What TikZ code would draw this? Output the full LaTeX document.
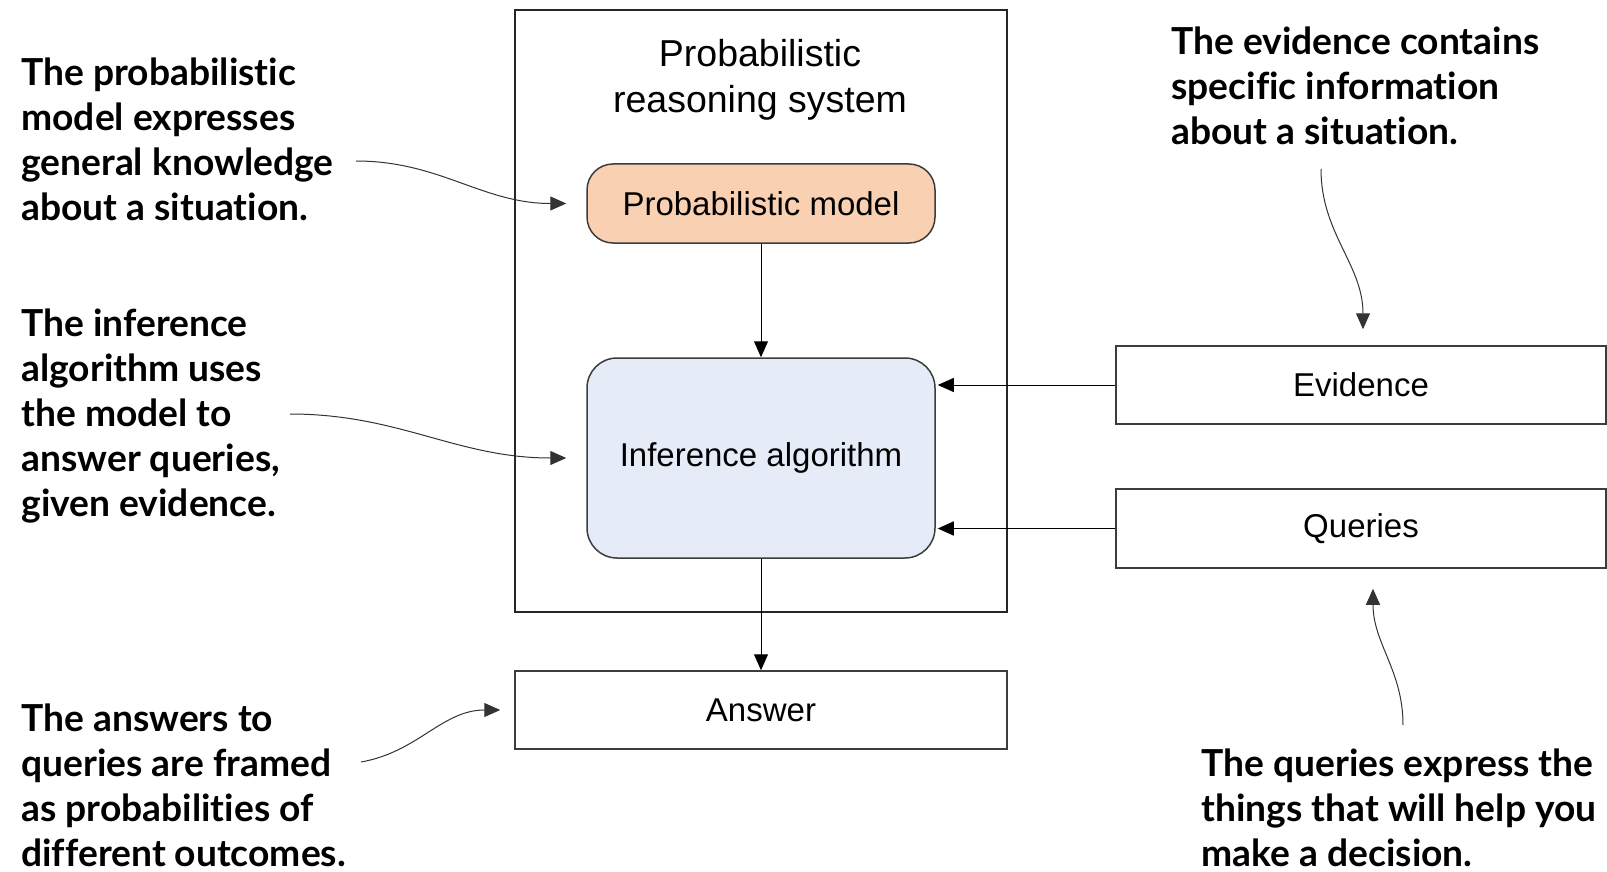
\documentclass[tikz,border=0pt]{standalone}
\usepackage{fontspec}
\setmainfont{Liberation Sans}
\newfontfamily\notefont[Ligatures=NoCommon]{Lato}
\usepackage{xcolor}
\usetikzlibrary{arrows.meta,positioning,calc}
\definecolor{modelfill}{RGB}{250,208,178}
\definecolor{inferfill}{RGB}{230,235,248}
\definecolor{edgegray}{RGB}{60,60,60}

\begin{document}
\begin{tikzpicture}[
  x=0.5pt, y=-0.5pt,
  font=\fontsize{16.5}{20}\selectfont,
  box/.style={draw=edgegray, line width=0.75pt, align=center, inner sep=0pt},
  rbox/.style={box, rounded corners=13pt},
  note/.style={font=\notefont\bfseries\fontsize{18.6}{22.5}\selectfont, align=left, anchor=north west, inner sep=0pt},
  arr/.style={-{Triangle[length=8pt,width=7pt]}, line width=0.5pt},
  carr/.style={arr, draw=black!80}
]
\useasboundingbox (0,0) rectangle (1607,872);
% System and its parts
\node[box, line width=1pt, draw=black!85, minimum width=246pt, minimum height=301pt] (sys) at (761,311) {};
\node[align=center, font=\fontsize{18.75}{23}\selectfont] (title) at (760,80) {Probabilistic\\reasoning system};
\node[rbox, fill=modelfill, minimum width=174pt, minimum height=39.5pt] (pmodel) at (761,203.5) {Probabilistic model};
\node[rbox, rounded corners=15pt, fill=inferfill, minimum width=174pt, minimum height=100pt] (infer) at (761,458) {Inference algorithm};
\node[box, minimum width=246pt, minimum height=39pt] (answer) at (761,710) {Answer};
% Inputs
\node[box, minimum width=245pt, minimum height=39pt] (evid) at (1361,385) {Evidence};
\node[box, minimum width=245pt, minimum height=39.5pt] (query) at (1361,528.5) {Queries};
\draw[arr] (pmodel.south) -- (infer.north);
\draw[arr] (infer.south) -- (answer.north);
\draw[arr] (evid.west) -- ([xshift=1pt]evid.west -| infer.east);
\draw[arr, line width=0.8pt] (query.west) -- ([xshift=1pt]query.west -| infer.east);
% Annotations
\node[note] (nmodel) at (21,57) {The probabilistic\\model expresses\\general knowledge\\about a situation.};
\node[note] (ninfer) at (21,308) {The inference\\algorithm uses\\the model to\\answer queries,\\given evidence.};
\node[note] (nanswer) at (21,703) {The answers to\\queries are framed\\as probabilities of\\different outcomes.};
\node[note] (nevid) at (1171,26) {The evidence contains\\specific information\\about a situation.};
\node[note] (nquery) at (1201,748) {The queries express the\\things that will help you\\make a decision.};
\coordinate (cmodel) at (356,161);
\coordinate (cinfer) at (290,414);
\coordinate (canswer) at (361,762);
\coordinate (cevid) at (1321,169);
\coordinate (cquery) at (1403,725);
\draw[carr] (cmodel) to[out=0, in=180] ([xshift=-10pt]pmodel.west);
\draw[carr] (cinfer) to[out=0, in=180] ([xshift=-10pt]infer.west);
\draw[carr] (canswer) to[out=10, in=180] ([xshift=-7pt]answer.west);
\draw[carr] (cevid) to[out=-90, in=90] ([xshift=1pt,yshift=8pt]evid.north);
\draw[carr] (cquery) to[out=90, in=-90] ([xshift=6pt,yshift=-10pt]query.south);
\end{tikzpicture}
\end{document}
